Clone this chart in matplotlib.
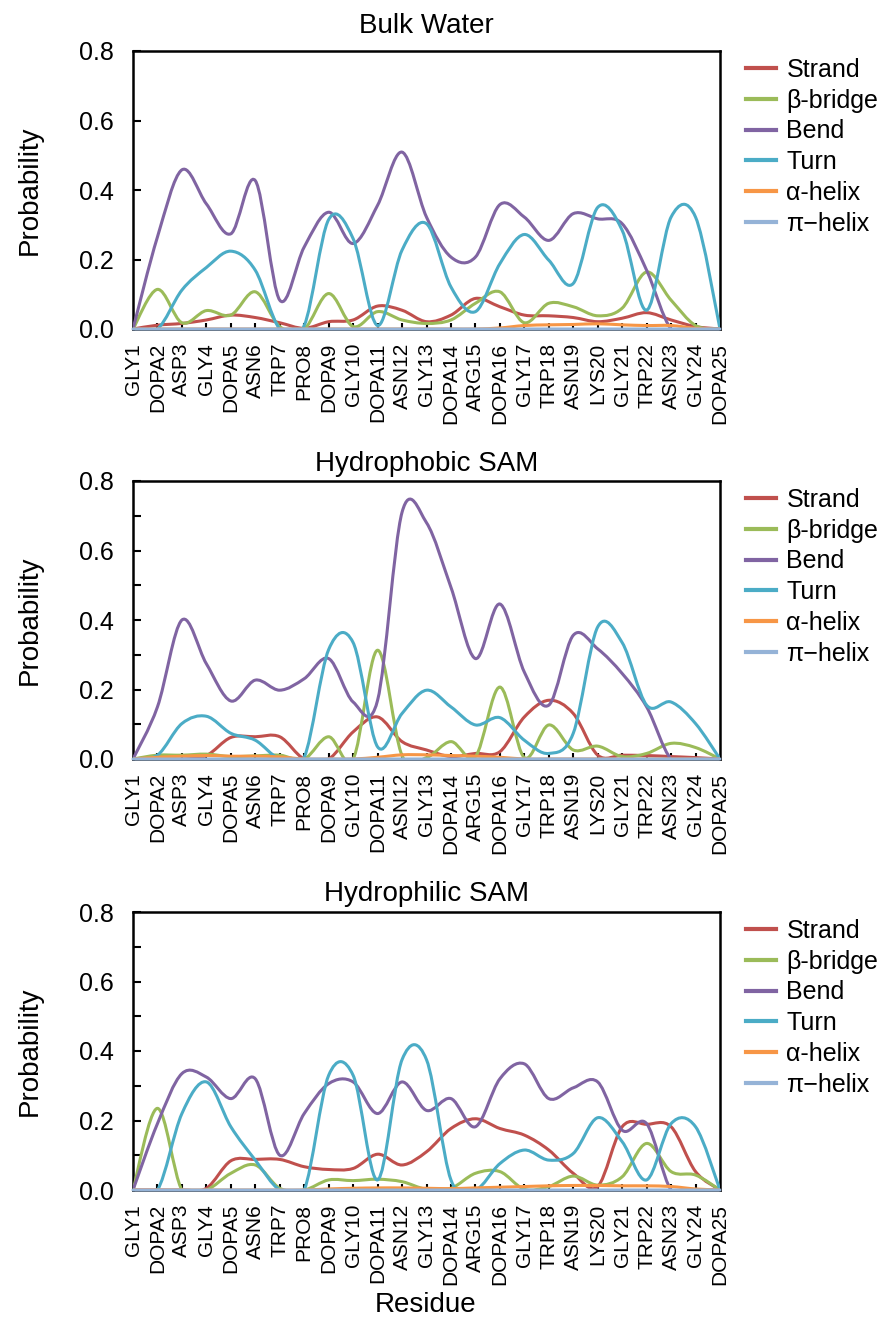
import matplotlib
matplotlib.use("Agg")
import matplotlib.pyplot as plt
from matplotlib.path import Path
from matplotlib.patches import PathPatch
from matplotlib.lines import Line2D
from matplotlib.ticker import MultipleLocator
import numpy as np

plt.rcParams["font.family"] = ["Liberation Sans", "DejaVu Sans"]

residues = ["GLY1", "DOPA2", "ASP3", "GLY4", "DOPA5", "ASN6", "TRP7", "PRO8",
            "DOPA9", "GLY10", "DOPA11", "ASN12", "GLY13", "DOPA14", "ARG15",
            "DOPA16", "GLY17", "TRP18", "ASN19", "LYS20", "GLY21", "TRP22",
            "ASN23", "GLY24", "DOPA25"]

labels = ["Strand", "\u03b2-bridge", "Bend", "Turn", "\u03b1-helix", "\u03c0\u2212helix"]
colors = ["#c0504d", "#9bbb59", "#8064a2", "#4bacc6", "#f79646", "#95b3d7"]

# Bulk water
bulk_strand = [0, 0.011, 0.016, 0.026, 0.04, 0.033, 0.018, 0.002, 0.021, 0.026, 0.066, 0.054, 0.021,
               0.04, 0.088, 0.064, 0.04, 0.038, 0.033, 0.021, 0.031, 0.047, 0.026, 0.007, 0]
bulk_bridge = [0, 0.114, 0.018, 0.053, 0.04, 0.107, 0.007, 0, 0.102, 0.007, 0.05, 0.026, 0.016,
               0.026, 0.074, 0.107, 0.018, 0.074, 0.064, 0.038, 0.06, 0.164, 0.083, 0.01, 0]
bulk_bend = [0, 0.265, 0.458, 0.36, 0.274, 0.427, 0.083, 0.236, 0.336, 0.246, 0.356, 0.509, 0.322,
             0.207, 0.207, 0.358, 0.322, 0.255, 0.332, 0.317, 0.303, 0.169, 0, 0, 0]
bulk_turn = [0, 0, 0.112, 0.177, 0.224, 0.169, 0.0, 0.01, 0.315, 0.26, 0.01, 0.227, 0.303,
             0.121, 0.05, 0.188, 0.272, 0.198, 0.131, 0.35, 0.284, 0.054, 0.322, 0.322, 0]
bulk_alpha = [0, 0, 0, 0, 0, 0, 0, 0, 0, 0, 0, 0, 0, 0, 0, 0.003, 0.01, 0.012, 0.013, 0.015,
              0.012, 0.01, 0.01, 0.002, 0]
bulk_pi = [0] * 25

# Hydrophobic SAM
phob_strand = [0, 0, 0, 0.01, 0.062, 0.064, 0.064, 0, 0, 0.078, 0.121, 0.05, 0.026, 0.007,
               0.016, 0.021, 0.121, 0.169, 0.131, 0.011, 0.011, 0.01, 0.007, 0.004, 0]
phob_bridge = [0, 0.011, 0.011, 0.014, 0.007, 0.009, 0.011, 0, 0.064, 0, 0.313, 0.01, 0.004,
               0.05, 0.007, 0.207, 0.004, 0.098, 0.026, 0.037, 0.007, 0.016, 0.045, 0.033, 0]
phob_bend = [0, 0.15, 0.4, 0.274, 0.167, 0.227, 0.198, 0.231, 0.289, 0.164, 0.169, 0.71, 0.68,
             0.494, 0.289, 0.446, 0.25, 0.155, 0.356, 0.317, 0.246, 0.15, 0, 0, 0]
phob_turn = [0, 0.011, 0.102, 0.123, 0.074, 0.054, 0, 0.005, 0.315, 0.335, 0.035, 0.131, 0.198,
             0.15, 0.098, 0.119, 0.054, 0.016, 0.074, 0.38, 0.335, 0.155, 0.164, 0.102, 0]
phob_alpha = [0, 0.005, 0.008, 0.01, 0.008, 0.008, 0.006, 0, 0, 0, 0.005, 0.012, 0.012, 0.01,
              0.008, 0.005, 0, 0, 0, 0, 0, 0, 0, 0, 0]
phob_pi = [0] * 25

# Hydrophilic SAM
phil_strand = [0, 0, 0, 0.005, 0.084, 0.088, 0.088, 0.067, 0.059, 0.062, 0.103, 0.072, 0.11,
               0.177, 0.205, 0.177, 0.158, 0.115, 0.048, 0.01, 0.182, 0.189, 0.182, 0.053, 0]
phil_bridge = [0, 0.235, 0, 0, 0.048, 0.072, 0.005, 0, 0.029, 0.027, 0.031, 0.024, 0.002, 0.005,
               0.048, 0.053, 0.002, 0.01, 0.04, 0.014, 0.038, 0.134, 0.053, 0.043, 0]
phil_bend = [0, 0.191, 0.335, 0.325, 0.263, 0.32, 0.1, 0.22, 0.306, 0.311, 0.22, 0.311, 0.229,
             0.263, 0.182, 0.32, 0.363, 0.263, 0.294, 0.311, 0.172, 0.191, 0, 0, 0]
phil_turn = [0, 0, 0.22, 0.311, 0.182, 0.086, 0, 0, 0.33, 0.33, 0.029, 0.375, 0.375, 0.029, 0,
             0.076, 0.115, 0.086, 0.105, 0.208, 0.139, 0.029, 0.191, 0.182, 0]
phil_alpha = [0, 0, 0, 0, 0, 0, 0, 0, 0.003, 0.005, 0.006, 0.006, 0.005, 0.004, 0.006, 0.008,
              0.01, 0.012, 0.013, 0.013, 0.012, 0.012, 0.01, 0.003, 0]
phil_pi = [0] * 25

panels = [
    ("Bulk Water", [bulk_strand, bulk_bridge, bulk_bend, bulk_turn, bulk_alpha, bulk_pi]),
    ("Hydrophobic SAM", [phob_strand, phob_bridge, phob_bend, phob_turn, phob_alpha, phob_pi]),
    ("Hydrophilic SAM", [phil_strand, phil_bridge, phil_bend, phil_turn, phil_alpha, phil_pi]),
]


def smooth_path(xs, ys):
    # Catmull-Rom through the points, written as cubic Bezier segments
    pts = np.column_stack([xs, ys]).astype(float)
    ext = np.vstack([pts[0], pts, pts[-1]])
    verts = [pts[0]]
    codes = [Path.MOVETO]
    for i in range(len(pts) - 1):
        p0, p1, p2, p3 = ext[i], ext[i + 1], ext[i + 2], ext[i + 3]
        verts += [p1 + (p2 - p0) / 6, p2 - (p3 - p1) / 6, p2]
        codes += [Path.CURVE4] * 3
    return Path(verts, codes)


fig = plt.figure(figsize=(8.83, 13.35), dpi=100)
bottoms = [1 - 329 / 1335, 1 - 759 / 1335, 1 - 1190 / 1335]
title_pads = [13, 7, 8]
x = np.arange(len(residues))

for k, (title, series) in enumerate(panels):
    ax = fig.add_axes([133 / 883, bottoms[k], 587 / 883, 278 / 1335])
    for j, (vals, col) in enumerate(zip(series, colors)):
        patch = PathPatch(smooth_path(x, vals), facecolor="none", edgecolor=col,
                          lw=2.2, capstyle="round", joinstyle="round", zorder=3)
        if j == len(series) - 1:
            patch.set_clip_on(False)
        ax.add_patch(patch)
    ax.set_xlim(0, len(residues) - 1)
    ax.set_ylim(0, 0.8)
    ax.set_xticks(x[1:-1])
    ax.set_xticklabels([])
    for xi, lab in zip(x, residues):
        ax.text(xi, -0.05, lab, rotation=90, ha="center", va="top", fontsize=15,
                transform=ax.get_xaxis_transform(), clip_on=False)
    if k > 0:
        ax.yaxis.set_minor_locator(MultipleLocator(0.1))
    ax.set_yticks([0, 0.2, 0.4, 0.6, 0.8])
    ax.set_yticklabels(["0.0", "0.2", "0.4", "0.6", "0.8"])
    ax.tick_params(axis="y", direction="in", length=6, width=1.5, labelsize=18, pad=14)
    ax.tick_params(axis="y", which="minor", direction="in", length=6, width=1.5)
    ax.tick_params(axis="x", direction="in", length=4, width=1.5)
    for sp in ax.spines.values():
        sp.set_linewidth(1.8)
    ax.set_title(title, fontsize=20, pad=title_pads[k])
    ax.set_ylabel("Probability", fontsize=20, labelpad=26)
    handles = [Line2D([], [], color=c, lw=3) for c in colors]
    ax.legend(handles, labels, loc="upper left", bbox_to_anchor=(1.045, 0.975),
              frameon=False, fontsize=18, handlelength=1.2, handletextpad=0.4,
              labelspacing=0.27, borderpad=0, borderaxespad=0)

fig.text(426 / 883, 1 - 1305 / 1335, "Residue", ha="center", va="center", fontsize=20)
fig.savefig("out.png", dpi=100)
